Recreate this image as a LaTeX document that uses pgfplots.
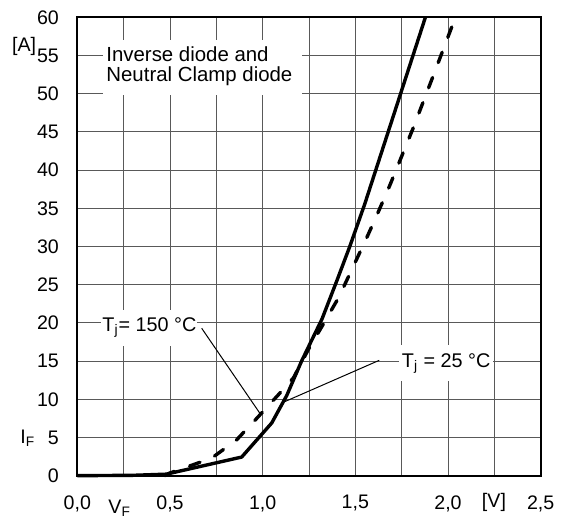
\documentclass[border=0pt]{standalone}
\usepackage{fontspec}
\setmainfont{Liberation Sans}
\usepackage{pgfplots}
\pgfplotsset{compat=1.18}
\begin{document}
\fontsize{9.6}{11}\selectfont
\begin{tikzpicture}
\useasboundingbox (-38.65pt,-24.15pt) rectangle (246.35pt,237.85pt);
\begin{axis}[
  scale only axis,
  width=231.7pt, height=229.2pt,
  xmin=0, xmax=2.5, ymin=0, ymax=60,
  xtick={0,0.5,1,1.5,2,2.5},
  xticklabels={{0,0},{0,5},{1,0},{1,5},{2,0},{2,5}},
  minor xtick={0.25,0.75,1.25,1.75,2.25},
  ytick={0,5,10,15,20,25,30,35,40,45,50,55,60},
  grid=both,
  major grid style={black!65, line width=0.45pt},
  minor grid style={black!65, line width=0.45pt},
  major tick length=0pt, minor tick length=0pt,
  axis line style={line width=1pt},
  /pgf/number format/assume math mode=true,
  tick label style={font=\fontsize{9.8}{11}\selectfont},
  xticklabel style={yshift=-6.5pt},
  yticklabel style={xshift=-5.8pt},
  clip=false,
]
% Tj = 150 C (solid)
\addplot[black, line width=1.7pt, line join=round] coordinates {
  (0,0) (0.3,0.05) (0.48,0.2) (0.887,2.44) (1.049,6.9) (1.13,10.5)
  (1.21,15) (1.32,20.5) (1.40,25.5) (1.47,30) (1.55,35.5) (1.878,60)
};
% Tj = 25 C (dashed)
\addplot[black, line width=1.7pt, line cap=round, dash pattern=on 5.5pt off 8pt] coordinates {
  (0.47,0) (0.5,0.35) (0.725,2.3) (0.86,4.7) (0.968,7.5) (1.085,10.6)
  (1.166,12.8) (1.246,16.5) (1.331,20) (1.412,23.4) (1.483,27.1)
  (1.555,30.8) (1.618,34.2) (1.686,38) (1.812,45.5) (1.929,52.9) (2.04,60)
};
% title box
\fill[white] (axis cs:0.139,57) rectangle (axis cs:1.212,49.8);
\node[anchor=north west, align=left, inner sep=0pt, font=\fontsize{10.2}{10}\selectfont]
  at (axis cs:0.155,56.15) {Inverse diode and\\Neutral Clamp diode};
% labels
\draw[line width=0.5pt] (axis cs:0.671,19.3) -- (axis cs:0.985,8.17);
\draw[line width=0.5pt] (axis cs:1.629,15.1) -- (axis cs:1.12,9.7);
\node[anchor=base west, fill=white, inner xsep=0.5pt, inner ysep=4pt, font=\fontsize{9.9}{11}\selectfont]
  at (axis cs:0.128,18.85) {T\textsubscript{j}= 150 °C};
\node[anchor=base west, fill=white, inner xsep=1.5pt, inner ysep=4pt, font=\fontsize{9.9}{11}\selectfont]
  at (axis cs:1.733,14.19) {T\textsubscript{j} = 25 °C};
% axis labels
\node[font=\fontsize{9.8}{11}\selectfont] at (axis cs:-0.287,56.2) {[A]};
\node[anchor=base west, inner sep=0pt, font=\fontsize{9.8}{11}\selectfont] at (axis cs:-0.309,4.15) {I\textsubscript{F}};
\node[anchor=base west, inner sep=0pt, font=\fontsize{9.8}{11}\selectfont] at (axis cs:0.166,-4.92) {V\textsubscript{F}};
\node[font=\fontsize{9.8}{11}\selectfont] at (axis cs:2.248,-3.45) {[V]};
\end{axis}
\end{tikzpicture}
\end{document}
